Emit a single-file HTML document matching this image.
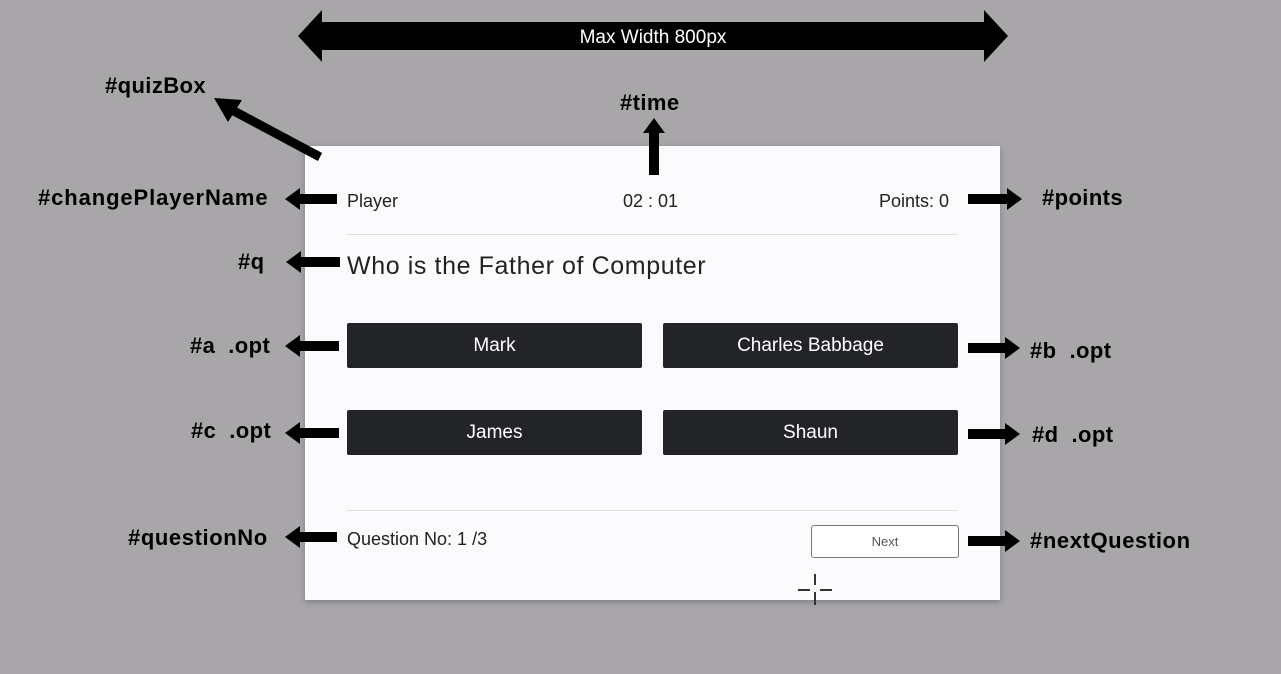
<!DOCTYPE html>
<html><head><style>
body{margin:0;width:1281px;height:674px;background:#a8a6a9;position:relative;overflow:hidden;font-family:"Liberation Sans",sans-serif}
.l{position:absolute;font-weight:bold;font-size:22px;letter-spacing:0.4px;color:#000;line-height:1;white-space:nowrap}
.box{position:absolute;left:305px;top:146px;width:695px;height:454px;background:#fbfafc;box-shadow:0 2px 6px rgba(0,0,0,.25)}
.t{position:absolute;font-size:18px;color:#222;line-height:1;white-space:nowrap}
.btn{position:absolute;background:#222427;color:#fff;font-size:19px;text-align:center;border-radius:2px;height:45px;line-height:45px;width:295px}
.hr{position:absolute;left:347px;width:611px;height:1px;background:#dcdcdc}
</style></head><body>
<div class="box"></div>
<div class="hr" style="top:234px"></div>
<div class="hr" style="top:510px"></div>
<div class="t" style="left:347px;top:192px">Player</div>
<div class="t" style="left:623px;top:192px">02 : 01</div>
<div class="t" style="left:879px;top:192px">Points: 0</div>
<div class="t" style="left:347px;top:254px;font-size:25px;letter-spacing:0.6px">Who is the Father of Computer</div>
<div class="btn" style="left:347px;top:323px">Mark</div>
<div class="btn" style="left:663px;top:323px">Charles Babbage</div>
<div class="btn" style="left:347px;top:410px">James</div>
<div class="btn" style="left:663px;top:410px">Shaun</div>
<div class="t" style="left:347px;top:530px">Question No: 1 /3</div>
<div style="position:absolute;left:811px;top:525px;width:146px;height:31px;border:1px solid #777;border-radius:3px;background:#fff;font-size:13px;color:#555;text-align:center;line-height:31px">Next</div>
<svg width="1281" height="674" style="position:absolute;left:0;top:0">
<g fill="#000">
<polygon points="298,36 322,10 322,22 984,22 984,10 1008,36 984,62 984,50 322,50 322,62"/>
<rect x="649" y="130" width="10" height="45"/>
<polygon points="654,118 643,133 665,133"/>
</g>
<line x1="320" y1="157" x2="232" y2="110" stroke="#000" stroke-width="9"/>
<polygon points="214,98 242,100 228,122" fill="#000"/>
<g fill="#000">
<polygon points="285,199 300,188 300,194 337,194 337,204 300,204 300,210"/>
<polygon points="286,262 301,251 301,257 340,257 340,267 301,267 301,273"/>
<polygon points="285,346 300,335 300,341 339,341 339,351 300,351 300,357"/>
<polygon points="285,433 300,422 300,428 339,428 339,438 300,438 300,444"/>
<polygon points="285,537 300,526 300,532 337,532 337,542 300,542 300,548"/>
<polygon points="1022,199 1007,188 1007,194 968,194 968,204 1007,204 1007,210"/>
<polygon points="1020,348 1005,337 1005,343 968,343 968,353 1005,353 1005,359"/>
<polygon points="1020,434 1005,423 1005,429 968,429 968,439 1005,439 1005,445"/>
<polygon points="1020,541 1005,530 1005,536 968,536 968,546 1005,546 1005,552"/>
</g>
<text x="653" y="43" fill="#fff" font-family="Liberation Sans" font-size="19" text-anchor="middle">Max Width 800px</text>
<g stroke="#333" stroke-width="2"><line x1="815" y1="574" x2="815" y2="585"/><line x1="815" y1="592" x2="815" y2="605"/><line x1="798" y1="590" x2="810" y2="590"/><line x1="820" y1="590" x2="832" y2="590"/></g>
</svg>
<div class="l" style="left:105px;top:75px">#quizBox</div>
<div class="l" style="left:620px;top:92px">#time</div>
<div class="l" style="left:38px;top:187px;letter-spacing:0.9px">#changePlayerName</div>
<div class="l" style="left:1042px;top:187px">#points</div>
<div class="l" style="left:238px;top:251px">#q</div>
<div class="l" style="left:190px;top:335px">#a&nbsp;&nbsp;.opt</div>
<div class="l" style="left:1030px;top:340px">#b&nbsp;&nbsp;.opt</div>
<div class="l" style="left:191px;top:420px">#c&nbsp;&nbsp;.opt</div>
<div class="l" style="left:1032px;top:424px">#d&nbsp;&nbsp;.opt</div>
<div class="l" style="left:128px;top:527px;letter-spacing:0.6px">#questionNo</div>
<div class="l" style="left:1030px;top:530px;letter-spacing:0.6px">#nextQuestion</div>
</body></html>
